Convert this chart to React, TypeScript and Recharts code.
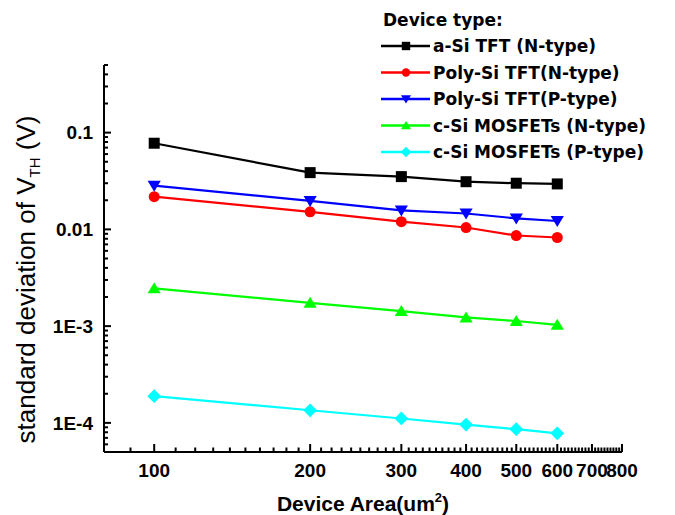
import React from 'react'
import { LineChart, Line, XAxis, YAxis, Legend } from 'recharts'

// device area (um^2) and std deviation of Vth (V)
const areas = [100, 200, 300, 400, 500, 600]
const aSiN = [0.0777, 0.0386, 0.0351, 0.0311, 0.03, 0.0295]
const polyN = [0.0218, 0.0152, 0.012, 0.01045, 0.00864, 0.00824]
const polyP = [0.0283, 0.0197, 0.0157, 0.0146, 0.013, 0.0122]
const cSiN = [0.00246, 0.00174, 0.00143, 0.00123, 0.00113, 0.00103]
const cSiP = [0.000189, 0.000135, 0.000111, 0.000096, 0.000086, 0.000078]

const xMajor = [100, 200, 300, 400, 500, 600, 700, 800]
const yMajor = [0.0001, 0.001, 0.01, 0.1]
const yLabels = ['1E-4', '1E-3', '0.01', '0.1']

// minor ticks: every 10 on x, 2..9 per decade on y
const xMinor: number[] = []
for (let v = 90; v < 800; v += 10) if (!xMajor.includes(v)) xMinor.push(v)
const yMinor: number[] = []
for (let k = -5; k <= -1; k++) {
    for (let m = 2; m <= 9; m++) {
        const v = Number((m * Math.pow(10, k)).toPrecision(3))
        if (v >= 0.00005 && v <= 0.5) yMinor.push(v)
    }
}
const xTicks = [...xMinor, ...xMajor].sort((a, b) => a - b)
const yTicks = [...yMinor, ...yMajor].sort((a, b) => a - b)

const series = [
    { key: 'aSiN', name: 'a-Si TFT (N-type)', color: '#000000', shape: 'square' },
    { key: 'polyN', name: 'Poly-Si TFT(N-type)', color: '#ff0000', shape: 'circle' },
    { key: 'polyP', name: 'Poly-Si TFT(P-type)', color: '#0000ff', shape: 'down' },
    { key: 'cSiN', name: 'c-Si MOSFETs (N-type)', color: '#00ff00', shape: 'up' },
    { key: 'cSiP', name: 'c-Si MOSFETs (P-type)', color: '#00ffff', shape: 'diamond' },
]

const data = areas.map((a, i) => ({
    area: a,
    aSiN: aSiN[i],
    polyN: polyN[i],
    polyP: polyP[i],
    cSiN: cSiN[i],
    cSiP: cSiP[i],
}))

const FONT = '"Liberation Sans", Arial, sans-serif'

function marker(shape: string, cx: number, cy: number, s: number, color: string) {
    switch (shape) {
        case 'square':
            return <rect x={cx - s} y={cy - s} width={2 * s} height={2 * s} fill={color} />
        case 'circle':
            return <circle cx={cx} cy={cy} r={s} fill={color} />
        case 'down':
            return <polygon points={`${cx - s * 1.2},${cy - s * 0.9} ${cx + s * 1.2},${cy - s * 0.9} ${cx},${cy + s * 1.1}`} fill={color} />
        case 'up':
            return <polygon points={`${cx - s * 1.2},${cy + s * 0.9} ${cx + s * 1.2},${cy + s * 0.9} ${cx},${cy - s * 1.1}`} fill={color} />
        default:
            return <polygon points={`${cx},${cy - s * 1.25} ${cx + s * 1.25},${cy} ${cx},${cy + s * 1.25} ${cx - s * 1.25},${cy}`} fill={color} />
    }
}

function renderXTick(p: any) {
    const v = p.payload.value
    const major = xMajor.includes(v)
    const len = major ? 8 : 4.5
    return (
        <g key={`xt-${v}`}>
            <path d={`M${p.x},${p.y}V${p.y - len}`} stroke="#000000" strokeWidth={2} fill="none" />
            {major && (
                <text x={p.x} y={p.y + 25} textAnchor="middle" fontFamily={FONT} fontWeight="bold" fontSize={19} fill="#000">
                    {v}
                </text>
            )}
        </g>
    )
}

function renderYTick(p: any) {
    const v = p.payload.value
    const idx = yMajor.indexOf(v)
    const major = idx >= 0
    const len = major ? 7 : 4
    return (
        <g key={`yt-${v}`}>
            <path d={`M${p.x},${p.y}H${p.x + len}`} stroke="#000000" strokeWidth={2} fill="none" />
            {major && (
                <text x={p.x - 11} y={p.y} dy="0.35em" textAnchor="end" fontFamily={FONT} fontWeight="bold" fontSize={19} fill="#000">
                    {yLabels[idx]}
                </text>
            )}
        </g>
    )
}

function XTitle(props: any) {
    const vb = props.viewBox
    return (
        <text x={vb.x + vb.width / 2} y={vb.y + 59} textAnchor="middle" fontFamily={FONT} fontWeight="bold" fontSize={21} fill="#000">
            Device Area(um
            <tspan dy={-9} fontSize={13}>2</tspan>
            <tspan dy={9}>)</tspan>
        </text>
    )
}

function YTitle(props: any) {
    const vb = props.viewBox
    const x = 35
    const y = vb.y + vb.height / 2 + 21
    return (
        <text x={x} y={y} transform={`rotate(-90 ${x} ${y})`} textAnchor="middle" fontFamily={FONT} fontSize={26} fill="#000">
            standard deviation of V
            <tspan fontSize={15} dy={5}>TH</tspan>
            <tspan dy={-5}> (V)</tspan>
        </text>
    )
}

function LegendBox() {
    return (
        <svg width={300} height={165}>
            <text x={23} y={26} fontFamily='"DejaVu Sans", sans-serif' fontWeight="bold" fontSize={17} fill="#000">
                Device type:
            </text>
            {series.map((s, i) => {
                const cy = 46 + i * 26.5
                return (
                    <g key={s.key}>
                        <line x1={21} x2={70} y1={cy} y2={cy} stroke={s.color} strokeWidth={2.5} />
                        {marker(s.shape, 46, cy, 4.2, s.color)}
                        <text x={73} y={cy + 6} fontFamily='"DejaVu Sans", sans-serif' fontWeight="bold" fontSize={17} fill="#000">
                            {s.name}
                        </text>
                    </g>
                )
            })}
        </svg>
    )
}

export default function App() {
    return (
        <div style={{ position: 'absolute', left: 0, top: 0, background: '#fff' }}>
            <LineChart width={675} height={515} data={data} margin={{ top: 65, right: 53, bottom: 23, left: 34 }}>
                <XAxis
                    dataKey="area"
                    type="number"
                    scale="log"
                    domain={[80, 800]}
                    ticks={xTicks}
                    interval={0}
                    allowDataOverflow
                    tick={renderXTick}
                    tickLine={false}
                    tickSize={0}
                    tickMargin={0}
                    axisLine={{ stroke: '#000', strokeWidth: 2 }}
                    height={40}
                    label={{ content: XTitle }}
                />
                <YAxis
                    type="number"
                    scale="log"
                    domain={[0.00005, 0.5]}
                    ticks={yTicks}
                    interval={0}
                    allowDataOverflow
                    tick={renderYTick}
                    tickLine={false}
                    tickSize={0}
                    tickMargin={0}
                    axisLine={{ stroke: '#000', strokeWidth: 2 }}
                    width={70}
                    label={{ content: YTitle }}
                />
                <Legend
                    layout="horizontal"
                    verticalAlign="middle"
                    align="center"
                    content={() => <LegendBox />}
                    wrapperStyle={{ left: 360, top: 0, width: 300, height: 165 }}
                />
                {series.map((s) => (
                    <Line
                        key={s.key}
                        dataKey={s.key}
                        name={s.name}
                        stroke={s.color}
                        strokeWidth={2.2}
                        isAnimationActive={false}
                        dot={(p: any) => <g key={`${s.key}-${p.index}`}>{marker(s.shape, p.cx, p.cy, 5.5, s.color)}</g>}
                        activeDot={false}
                    />
                ))}
            </LineChart>
        </div>
    )
}
